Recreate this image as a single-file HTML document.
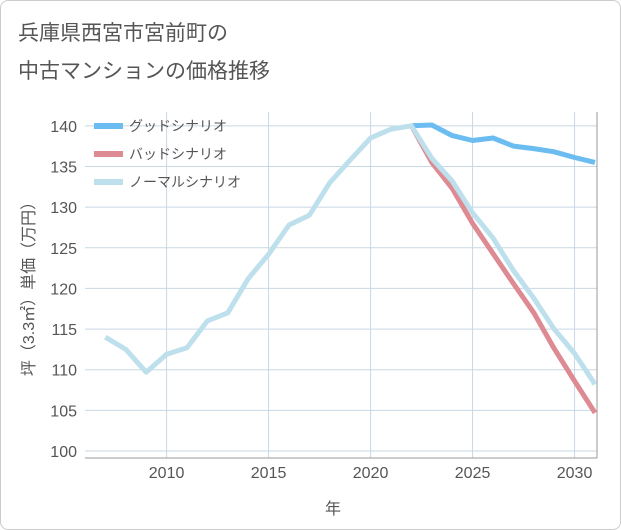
<!DOCTYPE html>
<html><head><meta charset="utf-8"><style>
body{margin:0;background:#fff;font-family:"Liberation Sans","Noto Sans CJK JP",sans-serif;}
#card{position:absolute;left:0;top:0;width:619px;height:528px;border:1px solid #ccc;border-radius:8px;}
</style></head><body>
<div id="card"></div>
<svg id="chart" width="621" height="530" style="position:absolute;left:0;top:0">
<text x="18" y="40" font-size="21" fill="#555">兵庫県西宮市宮前町の</text>
<text x="18" y="78" font-size="21" fill="#555">中古マンションの価格推移</text>
<text transform="translate(34,285) rotate(-90)" text-anchor="middle" font-size="16" fill="#555">坪（3.3㎡）単価（万円）</text>
<text x="333" y="514" text-anchor="middle" font-size="16" fill="#555">年</text>
<g id="grid"></g><g id="lines"></g><g id="legend"></g>
</svg>
<script>
const years=[2007,2008,2009,2010,2011,2012,2013,2014,2015,2016,2017,2018,2019,2020,2021,2022,2023,2024,2025,2026,2027,2028,2029,2030,2031];
const normal=[114,112.5,109.7,111.9,112.7,116,117,121.2,124.2,127.8,129,133,135.8,138.5,139.6,140,136,133.2,129.3,126.2,122.2,118.8,115,112,108.2];
const goodYears=[2022,2023,2024,2025,2026,2027,2028,2029,2030,2031];
const good=[140,140.1,138.8,138.2,138.5,137.5,137.2,136.8,136.1,135.5];
const bad=[140,135.5,132.3,128,124.3,120.6,117,112.6,108.6,104.7];
const yTicks=[100,105,110,115,120,125,130,135,140];
const xTicks=[2010,2015,2020,2025,2030];
const L=85,R=597,T=112,B=458,X0=2006,X1=2031.1,Y0=99.14,Y1=141.7;
const xs=v=>L+(v-X0)/(X1-X0)*(R-L);
const ys=v=>B-(v-Y0)/(Y1-Y0)*(B-T);
const NS="http://www.w3.org/2000/svg";
function mk(tag,attrs,parent){const e=document.createElementNS(NS,tag);for(const k in attrs)e.setAttribute(k,attrs[k]);parent.appendChild(e);return e;}
const grid=document.getElementById('grid'),lines=document.getElementById('lines'),leg=document.getElementById('legend');
yTicks.forEach(t=>{
 const l=mk('line',{x1:L,x2:R,y1:ys(t),y2:ys(t),stroke:'#c8d8e4','stroke-width':1},grid);
 
 
 const tx=mk('text',{x:L-8,y:ys(t)+6,'text-anchor':'end','font-size':16,fill:'#555'},grid);
 tx.textContent=t;
 
 
});
xTicks.forEach(t=>{
 const l=mk('line',{x1:xs(t),x2:xs(t),y1:T,y2:B,stroke:'#c8d8e4','stroke-width':1},grid);
 
 
 const tx=mk('text',{x:xs(t),y:B+20,'text-anchor':'middle','font-size':16,fill:'#555'},grid);
 tx.textContent=t;
 
 
});
const ax=mk('line',{x1:L,x2:R,y1:B,y2:B,stroke:'#999','stroke-width':1},grid);


const ax2=mk('line',{x1:R,x2:R,y1:T,y2:B,stroke:'#999','stroke-width':1},grid);


function path(xv,yv,color,name){
 const d=xv.map((x,i)=>(i?'L':'M')+xs(x).toFixed(1)+','+ys(yv[i]).toFixed(1)).join('');
 const p=mk('path',{d:d,fill:'none',stroke:color,'stroke-width':5,'stroke-linejoin':'round'},lines);
 
 
}
path(goodYears,good,'#6bbcf0','good-scenario-line');
path(goodYears,bad,'#de8a92','bad-scenario-line');
path(years,normal,'#bde0ec','normal-scenario-line');
const items=[['グッドシナリオ','#6bbcf0'],['バッドシナリオ','#de8a92'],['ノーマルシナリオ','#bde0ec']];
items.forEach((it,i)=>{
 const y=126+i*28;
 const g=mk('g',{},leg);
 
 
 mk('rect',{x:94,y:y-3,width:29,height:6,fill:it[1]},g);
 const tx=mk('text',{x:129,y:y+5,'font-size':14,fill:'#555'},g);
 tx.textContent=it[0];
});
</script>
</body></html>
